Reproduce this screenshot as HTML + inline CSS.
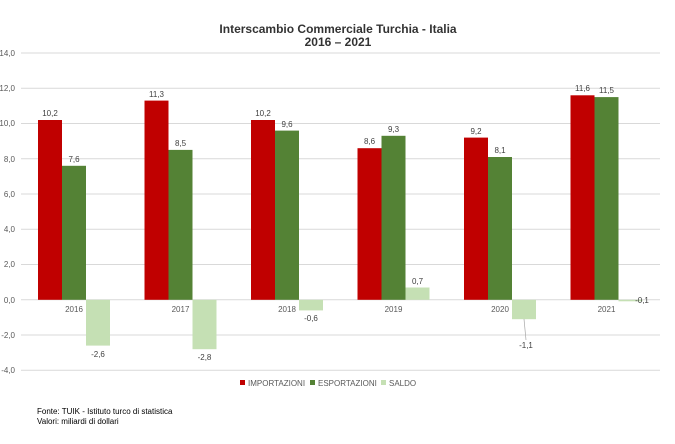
<!DOCTYPE html><html><head><style>html,body{margin:0;padding:0;background:#fff;overflow:hidden}svg{display:block}</style></head><body>
<svg width="675" height="444" xmlns="http://www.w3.org/2000/svg" font-family="Liberation Sans, sans-serif">
<rect width="675" height="444" fill="#fff"/>
<text x="338" y="33" text-anchor="middle" font-size="12" font-weight="bold" fill="#333">Interscambio Commerciale Turchia - Italia</text>
<text x="338" y="46" text-anchor="middle" font-size="12" font-weight="bold" fill="#333">2016 – 2021</text>
<g stroke="#d9d9d9" stroke-width="1">
<line x1="21" x2="660" y1="53" y2="53"/><line x1="21" x2="660" y1="88.3" y2="88.3"/><line x1="21" x2="660" y1="123.5" y2="123.5"/><line x1="21" x2="660" y1="158.8" y2="158.8"/><line x1="21" x2="660" y1="194" y2="194"/><line x1="21" x2="660" y1="229.3" y2="229.3"/><line x1="21" x2="660" y1="264.5" y2="264.5"/><line x1="21" x2="660" y1="299.8" y2="299.8"/><line x1="21" x2="660" y1="335" y2="335"/><line x1="21" x2="660" y1="370.3" y2="370.3"/>
</g>
<g font-size="8" fill="#595959" text-anchor="end">
<text x="15" y="56">14,0</text><text x="15" y="91">12,0</text><text x="15" y="126">10,0</text><text x="15" y="162">8,0</text><text x="15" y="197">6,0</text><text x="15" y="232">4,0</text><text x="15" y="267">2,0</text><text x="15" y="303">0,0</text><text x="15" y="338">-2,0</text><text x="15" y="373">-4,0</text>
</g>
<g>
<rect x="38" y="120" width="24" height="179.8" fill="#c00000"/><rect x="62" y="165.8" width="24" height="134" fill="#548235"/><rect x="86" y="299.8" width="24" height="45.8" fill="#c5e0b4"/>
<rect x="144.5" y="100.6" width="24" height="199.2" fill="#c00000"/><rect x="168.5" y="149.9" width="24" height="149.9" fill="#548235"/><rect x="192.5" y="299.8" width="24" height="49.4" fill="#c5e0b4"/>
<rect x="251" y="120" width="24" height="179.8" fill="#c00000"/><rect x="275" y="130.6" width="24" height="169.2" fill="#548235"/><rect x="299" y="299.8" width="24" height="10.6" fill="#c5e0b4"/>
<rect x="357.5" y="148.2" width="24" height="151.6" fill="#c00000"/><rect x="381.5" y="135.8" width="24" height="164" fill="#548235"/><rect x="405.5" y="287.5" width="24" height="12.3" fill="#c5e0b4"/>
<rect x="464" y="137.6" width="24" height="162.2" fill="#c00000"/><rect x="488" y="157" width="24" height="142.8" fill="#548235"/><rect x="512" y="299.8" width="24" height="19.4" fill="#c5e0b4"/>
<rect x="570.5" y="95.3" width="24" height="204.5" fill="#c00000"/><rect x="594.5" y="97.1" width="24" height="202.7" fill="#548235"/><rect x="618.5" y="299.8" width="24" height="1.5" fill="#c5e0b4"/>
</g>
<g font-size="8" fill="#404040" text-anchor="middle">
<text x="50" y="116">10,2</text><text x="74" y="162">7,6</text><text x="98" y="357">-2,6</text>
<text x="156.5" y="97">11,3</text><text x="180.5" y="146">8,5</text><text x="204.5" y="360">-2,8</text>
<text x="263" y="116">10,2</text><text x="287" y="127">9,6</text><text x="311" y="321">-0,6</text>
<text x="369.5" y="144">8,6</text><text x="393.5" y="132">9,3</text><text x="417.5" y="284">0,7</text>
<text x="476" y="134">9,2</text><text x="500" y="153">8,1</text><text x="526" y="348">-1,1</text>
<text x="582.5" y="91">11,6</text><text x="606.5" y="93">11,5</text><text x="642" y="303">-0,1</text>
</g>
<line x1="524" y1="319" x2="526" y2="340" stroke="#a6a6a6" stroke-width="0.7"/>
<g font-size="8" fill="#595959" text-anchor="middle">
<text x="74" y="312">2016</text><text x="180.5" y="312">2017</text><text x="287" y="312">2018</text><text x="393.5" y="312">2019</text><text x="500" y="312">2020</text><text x="606.5" y="312">2021</text>
</g>
<g font-size="8" fill="#595959">
<rect x="240" y="380" width="5" height="5" fill="#c00000"/><text x="248" y="386">IMPORTAZIONI</text>
<rect x="310" y="380" width="5" height="5" fill="#548235"/><text x="318" y="386">ESPORTAZIONI</text>
<rect x="381" y="380" width="5" height="5" fill="#c5e0b4"/><text x="389" y="386">SALDO</text>
</g>
<g font-size="8" fill="#000">
<text x="37" y="414">Fonte: TUIK - Istituto turco di statistica</text>
<text x="37" y="424">Valori: miliardi di dollari</text>
</g>
</svg>
</body></html>
